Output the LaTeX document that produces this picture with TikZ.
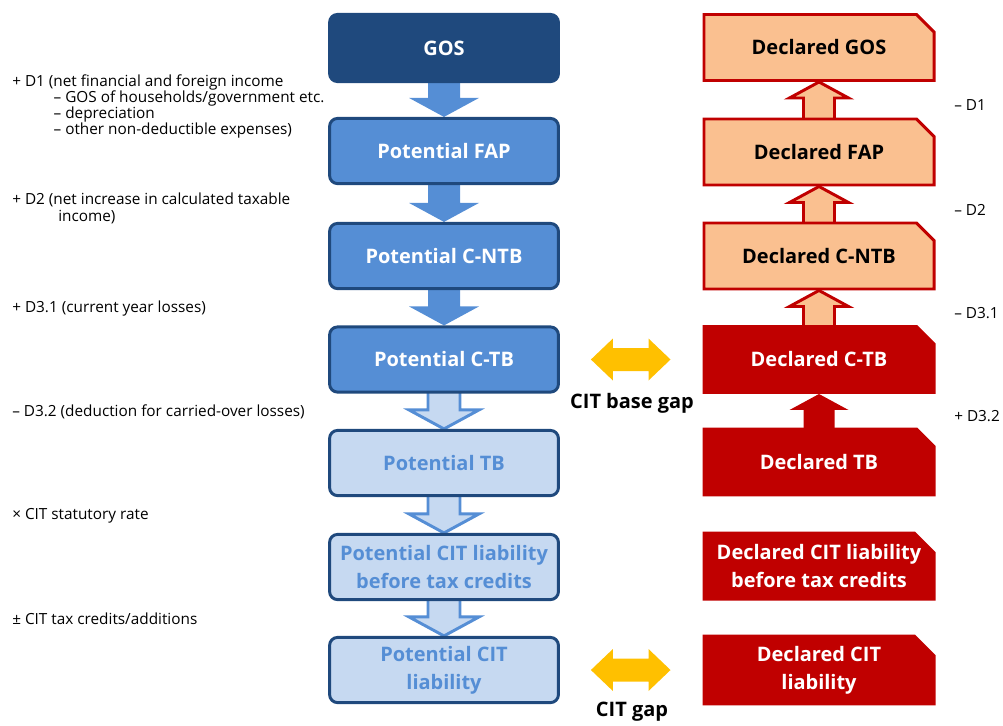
\documentclass[tikz,border=0pt]{standalone}
\usepackage{fontspec}
\setmainfont{Open Sans}
\usepackage{tikz}
\usetikzlibrary{calc,shapes.misc,backgrounds}

\definecolor{navy}{HTML}{1F497D}
\definecolor{midblue}{HTML}{558ED5}
\definecolor{paleblue}{HTML}{C6D9F1}
\definecolor{declred}{HTML}{C00000}
\definecolor{peach}{HTML}{FAC090}
\definecolor{gapyellow}{HTML}{FFC000}

\newcommand{\boxfont}{\bfseries\fontsize{14.2}{20}\selectfont}
\newcommand{\notefont}{\fontsize{10.9}{11.6}\selectfont}

\tikzset{
  potbox/.style={rectangle, rounded corners=5.7pt, minimum width=5.72cm, minimum height=1.63cm,
    inner sep=0pt, line width=2.1pt, draw=navy, fill=midblue, text=white, font=\boxfont, align=center},
  gosbox/.style={potbox, fill=navy, minimum height=1.68cm},
  potlight/.style={potbox, fill=paleblue, text=midblue},
  decbox/.style={chamfered rectangle, chamfered rectangle corners=north east,
    chamfered rectangle xsep=7pt, chamfered rectangle ysep=7pt,
    minimum width=5.75cm, minimum height=1.65cm, inner sep=0pt, line width=2.1pt,
    draw=declred, font=\boxfont, align=center},
  decpeach/.style={decbox, fill=peach, text=black},
  decred/.style={decbox, fill=declred, text=white},
  solidblue/.style={fill=midblue},
  openblue/.style={fill=paleblue, draw=midblue, line width=2.1pt},
  openpeach/.style={fill=peach, draw=declred, line width=2.1pt, line join=miter},
  solidred/.style={fill=declred},
  gaplabel/.style={font=\boxfont, text=black, inner sep=0pt},
  note/.style={font=\notefont, inner sep=0pt, align=left, anchor=west}
}

\newcommand{\blockdown}[3]{%
  \path[#1] ($(#2.south)+(-16,-5)$) -- ($(#3.north)+(-16,-19)$) -- ($(#3.north)+(-35,-19)$) -- (#3.north)
    -- ($(#3.north)+(35,-19)$) -- ($(#3.north)+(16,-19)$) -- ($(#2.south)+(16,-5)$) -- cycle;}
\newcommand{\blockup}[3]{%
  \path[#1] ($(#2.north)+(-15.5,5)$) -- ($(#3.south)+(-15.5,16)$) -- ($(#3.south)+(-29.5,16)$) -- (#3.south)
    -- ($(#3.south)+(29.5,16)$) -- ($(#3.south)+(15.5,16)$) -- ($(#2.north)+(15.5,5)$) -- cycle;}
\newcommand{\gaparrow}[2]{%
  \path[fill=gapyellow] ($(#1.east)+(31,0)$) -- ++(22,-21) -- ++(0,9.5) -- ($(#2.west)+(-54,-11.5)$)
    -- ++(0,-9.5) -- ($(#2.west)+(-32,0)$) -- ++(-22,21) -- ++(0,-9.5) -- ($(#1.east)+(53,11.5)$)
    -- ++(0,9.5) -- cycle;}

\begin{document}
\begin{tikzpicture}[x=0.025cm, y=-0.025cm]
\useasboundingbox (0,0) rectangle (1003,725);

\node[gosbox] (gos) at (444,48) {GOS};
\node[potbox] (pfap) at (444,151) {Potential FAP};
\node[potbox] (pcntb) at (444,256) {Potential C-NTB};
\node[potbox] (pctb) at (444,359.5) {Potential C-TB};
\node[potlight] (ptb) at (444,463) {Potential TB};
\node[potlight] (pcitb) at (444,567) {Potential CIT liability\\before tax credits};
\node[potlight] (pcit) at (444,670) {Potential CIT\\liability};

\node[decpeach] (dgos) at (819,47.5) {Declared GOS};
\node[decpeach] (dfap) at (819,152) {Declared FAP};
\node[decpeach] (dcntb) at (819,256) {Declared C-NTB};
\node[decred] (dctb) at (819,359.5) {Declared C-TB};
\node[decred] (dtb) at (819,462) {Declared TB};
\node[decred] (dcitb) at (819,566) {Declared CIT liability\\before tax credits};
\node[decred] (dcit) at (819,670) {Declared CIT\\liability};

\begin{scope}[on background layer]
\blockdown{solidblue}{gos}{pfap}
\blockdown{solidblue}{pfap}{pcntb}
\blockdown{solidblue}{pcntb}{pctb}
\blockdown{openblue}{pctb}{ptb}
\blockdown{openblue}{ptb}{pcitb}
\blockdown{openblue}{pcitb}{pcit}
\blockup{openpeach}{dfap}{dgos}
\blockup{openpeach}{dcntb}{dfap}
\blockup{openpeach}{dctb}{dcntb}
\blockup{solidred}{dtb}{dctb}
\end{scope}

\gaparrow{pctb}{dctb}
\gaparrow{pcit}{dcit}
\node[gaplabel] (basegap) at (632,403) {CIT base gap};
\node[gaplabel] (citgap) at (632,712) {CIT gap};

\node[note, anchor=north west] (d1) at (12,74) {+ D1 (net financial and foreign income\\
  \hspace*{2.7em}– GOS of households/government etc.\\
  \hspace*{2.7em}– depreciation\\
  \hspace*{2.7em}– other non-deductible expenses)};
\node[note, anchor=north west] (d2) at (12,193) {+ D2 (net increase in calculated taxable\\
  \hspace*{3.0em}income)};
\node[note] (d31) at (12,309) {+ D3.1 (current year losses)};
\node[note] (d32) at (12,412) {– D3.2 (deduction for carried-over losses)};
\node[note] (rate) at (12,516) {× CIT statutory rate};
\node[note] (credits) at (12,619) {± CIT tax credits/additions};

\node[note] (md1) at (954,105) {– D1};
\node[note] (md2) at (954,210) {– D2};
\node[note] (md31) at (954,313) {– D3.1};
\node[note] (pd32) at (954,416) {+ D3.2};
\end{tikzpicture}
\end{document}
